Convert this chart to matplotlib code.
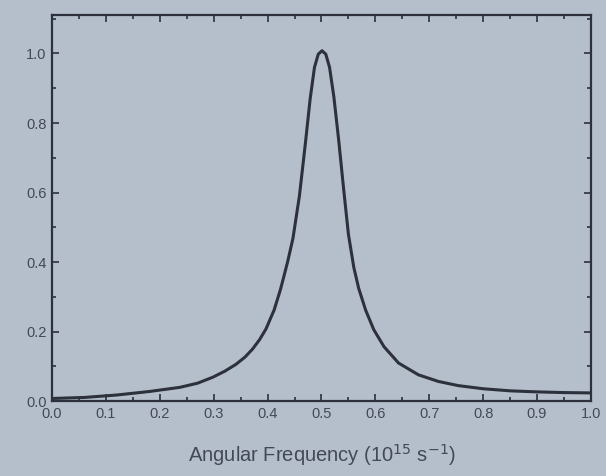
import matplotlib.pyplot as plt
from matplotlib.ticker import MultipleLocator

plt.rcParams['font.family'] = ['Liberation Sans', 'DejaVu Sans']

# points (frequency in 1e15 s^-1, normalised response)
freq = [0.0, 0.06, 0.12, 0.18, 0.237, 0.27, 0.298, 0.32, 0.341, 0.358,
        0.372, 0.385, 0.397, 0.412, 0.424, 0.437, 0.447, 0.459, 0.470, 0.479,
        0.487, 0.494, 0.501, 0.508, 0.515, 0.523, 0.532, 0.541, 0.550, 0.560,
        0.569, 0.582, 0.597, 0.616, 0.643, 0.680, 0.717, 0.754, 0.80, 0.85,
        0.90, 0.95, 1.0]
resp = [0.008, 0.011, 0.018, 0.028, 0.040, 0.052, 0.069, 0.086, 0.106, 0.127,
        0.150, 0.177, 0.208, 0.262, 0.322, 0.400, 0.468, 0.590, 0.740, 0.870,
        0.960, 0.998, 1.008, 0.998, 0.960, 0.875, 0.750, 0.612, 0.480, 0.385,
        0.325, 0.262, 0.206, 0.157, 0.110, 0.076, 0.057, 0.045, 0.036, 0.030,
        0.027, 0.025, 0.024]

bg = '#b5bfcc'
ink = '#2c313b'
txt = '#434955'

fig = plt.figure(figsize=(6.06, 4.76), dpi=100, facecolor=bg)
ax = fig.add_axes([0.086, 0.157, 0.889, 0.811], facecolor=bg)

ax.plot(freq, resp, color=ink, linewidth=2.2, solid_joinstyle='round',
        solid_capstyle='round')

ax.set_xlim(0, 1.0)
ax.set_ylim(0, 1.11)
ax.xaxis.set_major_locator(MultipleLocator(0.1))
ax.xaxis.set_minor_locator(MultipleLocator(0.05))
ax.yaxis.set_major_locator(MultipleLocator(0.2))
ax.yaxis.set_minor_locator(MultipleLocator(0.1))
ax.tick_params(which='both', direction='in', top=True, right=True,
               color=ink, width=1.2, labelsize=10.5, labelcolor=txt)
ax.tick_params(which='major', length=5)
ax.tick_params(which='minor', length=3)
ax.tick_params(axis='x', pad=4)
ax.tick_params(axis='y', pad=4)
for s in ax.spines.values():
    s.set_color(ink)
    s.set_linewidth(1.6)

ax.set_xlabel('Angular Frequency (10$^{15}$ s$^{-1}$)', fontsize=14.5,
              color=txt, labelpad=15)

fig.savefig('out.png', dpi=100, facecolor=bg)
